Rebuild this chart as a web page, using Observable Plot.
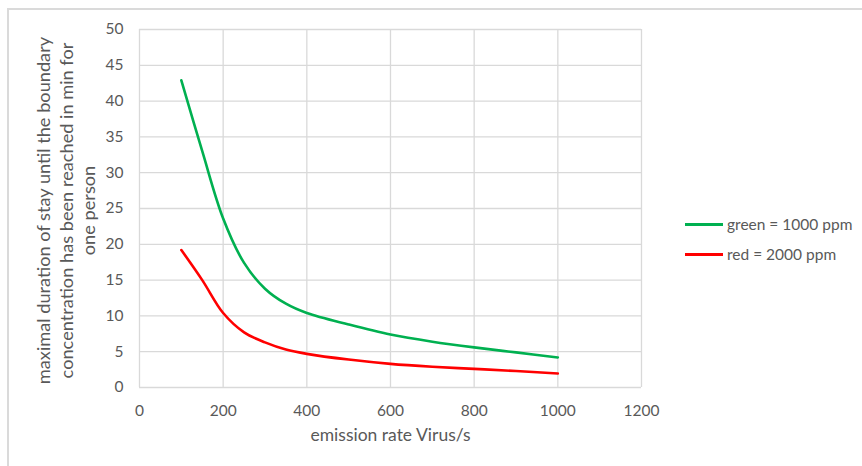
<!DOCTYPE html>
<html>
<head>
<meta charset="utf-8">
<script src="https://cdn.jsdelivr.net/npm/d3@7"></script>
<script src="https://cdn.jsdelivr.net/npm/@observablehq/plot@0.6"></script>
<style>
  html, body { margin: 0; padding: 0; background: #fff; }
  #wrap { position: relative; width: 862px; height: 466px; overflow: hidden; font-family: Lato, sans-serif; color: #595959; }
  #border { position: absolute; left: 7px; top: 8px; width: 900px; height: 500px; border: 2px solid #dadada; box-sizing: border-box; }
  #chart { position: absolute; left: 0; top: 0; }
  #legend { position: absolute; left: 685px; top: 209px; font-size: 15.5px; }
  .item { display: flex; align-items: center; height: 30px; }
  .sw { width: 38px; height: 3px; margin-right: 4px; }
</style>
</head>
<body>
<div id="wrap">
  <div id="border"></div>
  <div id="chart"></div>
  <div id="legend"></div>
</div>
<script>
// data
const emission = [100, 150, 200, 250, 300, 350, 400, 500, 600, 700, 800, 900, 1000];
const green1000 = [42.9, 33.0, 23.6, 17.4, 13.8, 11.7, 10.4, 8.8, 7.4, 6.4, 5.6, 4.9, 4.2];
const red2000 = [19.2, 15.0, 10.4, 7.7, 6.3, 5.3, 4.7, 3.9, 3.3, 2.9, 2.6, 2.3, 1.95];
const seriesNames = ["green = 1000 ppm", "red = 2000 ppm"];
const seriesColors = ["#00b050", "#ff0000"];
const xTicks = [0, 200, 400, 600, 800, 1000, 1200];
const yTicks = [0, 5, 10, 15, 20, 25, 30, 35, 40, 45, 50];
const xTitle = "emission rate Virus/s";
const yTitle = "maximal duration of stay until the boundary\nconcentration has been reached in min for\none person";

const greenData = emission.map((x, i) => ({x, y: green1000[i]}));
const redData = emission.map((x, i) => ({x, y: red2000[i]}));

const chart = Plot.plot({
  width: 862,
  height: 466,
  marginLeft: 139,
  marginRight: 221,
  marginTop: 29,
  marginBottom: 79,
  x: {domain: [0, 1200]},
  y: {domain: [0, 50]},
  style: {fontFamily: "Lato, sans-serif", color: "#595959", background: "transparent", fontSize: "15.5px"},
  marks: [
    Plot.gridX(xTicks, {stroke: "#d9d9d9", strokeOpacity: 1, strokeWidth: 1.3}),
    Plot.gridY(yTicks, {stroke: "#d9d9d9", strokeOpacity: 1, strokeWidth: 1.3}),
    Plot.axisX(xTicks, {tickSize: 0, tickPadding: 17, label: null, fontSize: 15.5, tickFormat: d => String(d)}),
    Plot.axisY(yTicks, {tickSize: 0, tickPadding: 16, label: null, fontSize: 15.5, tickFormat: d => String(d)}),
    Plot.line(greenData, {x: "x", y: "y", stroke: seriesColors[0], strokeWidth: 2.6, curve: "catmull-rom"}),
    Plot.line(redData, {x: "x", y: "y", stroke: seriesColors[1], strokeWidth: 2.6, curve: "catmull-rom"}),
    Plot.text([xTitle], {text: d => d, frameAnchor: "bottom", dy: 53, fontSize: 17.5}),
    Plot.text([yTitle], {text: d => d, frameAnchor: "left", rotate: -90, dx: -74, dy: 2, lineAnchor: "middle", textAnchor: "middle", fontSize: 18.2, lineHeight: 1.22})
  ]
});
document.getElementById("chart").appendChild(chart);

const legend = document.getElementById("legend");
seriesNames.forEach((name, i) => {
  const item = document.createElement("div");
  item.className = "item";
  const sw = document.createElement("div");
  sw.className = "sw";
  sw.style.background = seriesColors[i];
  const label = document.createElement("span");
  label.textContent = name;
  item.appendChild(sw);
  item.appendChild(label);
  legend.appendChild(item);
});
</script>
</body>
</html>
